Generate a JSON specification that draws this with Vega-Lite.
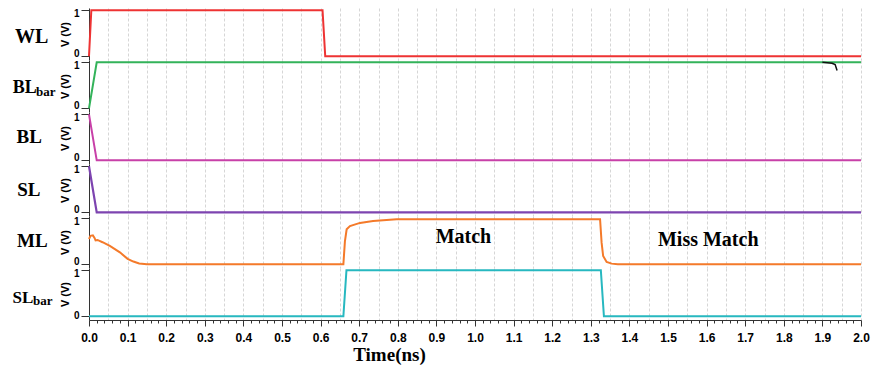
{
  "$schema": "https://vega.github.io/schema/vega-lite/v6.json",
  "padding": {"left": 12, "top": 6, "right": 6, "bottom": 4},
  "background": "white",
  "datasets": {
    "wave": [
      {"sig": "WL", "t": 0, "v": 0}, {"sig": "WL", "t": 0.006, "v": 1}, {"sig": "WL", "t": 0.605, "v": 1}, {"sig": "WL", "t": 0.612, "v": 0}, {"sig": "WL", "t": 2.0, "v": 0},
      {"sig": "BLbar", "t": 0, "v": 0}, {"sig": "BLbar", "t": 0.02, "v": 1}, {"sig": "BLbar", "t": 2.0, "v": 1},
      {"sig": "BL", "t": 0, "v": 1}, {"sig": "BL", "t": 0.02, "v": 0}, {"sig": "BL", "t": 2.0, "v": 0},
      {"sig": "SL", "t": 0, "v": 1}, {"sig": "SL", "t": 0.02, "v": 0}, {"sig": "SL", "t": 2.0, "v": 0},
      {"sig": "ML", "t": 0, "v": 0.55}, {"sig": "ML", "t": 0.004, "v": 0.62}, {"sig": "ML", "t": 0.01, "v": 0.63}, {"sig": "ML", "t": 0.014, "v": 0.58}, {"sig": "ML", "t": 0.017, "v": 0.52}, {"sig": "ML", "t": 0.022, "v": 0.53}, {"sig": "ML", "t": 0.035, "v": 0.48}, {"sig": "ML", "t": 0.054, "v": 0.4}, {"sig": "ML", "t": 0.08, "v": 0.26}, {"sig": "ML", "t": 0.1, "v": 0.12}, {"sig": "ML", "t": 0.115, "v": 0.06}, {"sig": "ML", "t": 0.13, "v": 0.02}, {"sig": "ML", "t": 0.15, "v": 0.0}, {"sig": "ML", "t": 0.659, "v": 0.0}, {"sig": "ML", "t": 0.663, "v": 0.5}, {"sig": "ML", "t": 0.6675, "v": 0.76}, {"sig": "ML", "t": 0.676, "v": 0.83}, {"sig": "ML", "t": 0.702, "v": 0.9}, {"sig": "ML", "t": 0.736, "v": 0.94}, {"sig": "ML", "t": 0.797, "v": 0.98}, {"sig": "ML", "t": 1.324, "v": 0.98}, {"sig": "ML", "t": 1.328, "v": 0.47}, {"sig": "ML", "t": 1.332, "v": 0.18}, {"sig": "ML", "t": 1.341, "v": 0.05}, {"sig": "ML", "t": 1.354, "v": 0.015}, {"sig": "ML", "t": 1.37, "v": 0.0}, {"sig": "ML", "t": 2.0, "v": 0.0},
      {"sig": "SLbar", "t": 0, "v": 0}, {"sig": "SLbar", "t": 0.659, "v": 0}, {"sig": "SLbar", "t": 0.667, "v": 1}, {"sig": "SLbar", "t": 1.326, "v": 1}, {"sig": "SLbar", "t": 1.334, "v": 0}, {"sig": "SLbar", "t": 2.0, "v": 0}
    ],
    "marker": [
      {"t": 1.9, "v": 1.0}, {"t": 1.925, "v": 0.98}, {"t": 1.933, "v": 0.95}, {"t": 1.938, "v": 0.82}
    ]
  },
  "data": {"name": "wave"},
  "vconcat": [
    {
      "width": 772, "height": 52,
      "layer": [
        {"transform": [{"filter": "datum.sig == 'WL'"}],
         "mark": {"type": "line", "color": "#ee3333", "strokeWidth": 2},
         "encoding": {
           "x": {"field": "t", "type": "quantitative", "scale": {"domain": [0, 2], "nice": false, "zero": false},
                 "axis": {"tickCount": 200, "grid": true, "gridColor": "#d6d6d6", "gridDash": [3, 2], "gridOpacity": {"condition": {"test": "round(datum.value*100) % 5 == 0", "value": 1}, "value": 0}, "labels": false, "ticks": false, "domain": false, "title": null}},
           "y": {"field": "v", "type": "quantitative", "scale": {"domain": [-0.08, 1.05], "nice": false, "zero": false},
                 "axis": {"values": [0, 0.25, 0.5, 0.75, 1], "labelExpr": "datum.value == 0 ? '0' : datum.value == 1 ? '1' : ''", "labelOffset": {"condition": {"test": "datum.value == 1", "value": 3}, "value": -3}, "labelFlush": false, "labelOverlap": false, "labelFont": "Liberation Sans", "labelFontWeight": "bold", "labelFontSize": 10, "labelColor": "#000", "labelPadding": 2, "tickSize": {"condition": {"test": "datum.value == 0 || datum.value == 1", "value": 8}, "value": 4}, "tickColor": "#333", "domainColor": "#333", "grid": true, "gridColor": "#d6d6d6", "gridDash": [3, 2], "gridOpacity": {"condition": {"test": "datum.value == 0.5", "value": 1}, "value": 0}, "title": "V (V)", "titleFont": "Liberation Sans", "titleFontWeight": "bold", "titleFontSize": 11, "titleColor": "#000", "titlePadding": 3}}
         }},
        {"data": {"values": [{"label": "WL"}]},
         "mark": {"type": "text", "font": "Liberation Serif", "fontWeight": "bold", "fontSize": 20, "align": "left", "baseline": "alphabetic", "color": "#000"},
         "encoding": {"x": {"datum": -0.1917, "type": "quantitative"}, "y": {"datum": 0.28, "type": "quantitative"}, "text": {"field": "label"}}}
      ]
    },
    {
      "width": 772, "height": 52,
      "layer": [
        {"transform": [{"filter": "datum.sig == 'BLbar'"}],
         "mark": {"type": "line", "color": "#33b35a", "strokeWidth": 2},
         "encoding": {
           "x": {"field": "t", "type": "quantitative", "scale": {"domain": [0, 2], "nice": false, "zero": false},
                 "axis": {"tickCount": 200, "grid": true, "gridColor": "#d6d6d6", "gridDash": [3, 2], "gridOpacity": {"condition": {"test": "round(datum.value*100) % 5 == 0", "value": 1}, "value": 0}, "labels": false, "ticks": false, "domain": false, "title": null}},
           "y": {"field": "v", "type": "quantitative", "scale": {"domain": [-0.08, 1.05], "nice": false, "zero": false},
                 "axis": {"values": [0, 0.25, 0.5, 0.75, 1], "labelExpr": "datum.value == 0 ? '0' : datum.value == 1 ? '1' : ''", "labelOffset": {"condition": {"test": "datum.value == 1", "value": 3}, "value": -3}, "labelFlush": false, "labelOverlap": false, "labelFont": "Liberation Sans", "labelFontWeight": "bold", "labelFontSize": 10, "labelColor": "#000", "labelPadding": 2, "tickSize": {"condition": {"test": "datum.value == 0 || datum.value == 1", "value": 8}, "value": 4}, "tickColor": "#333", "domainColor": "#333", "grid": true, "gridColor": "#d6d6d6", "gridDash": [3, 2], "gridOpacity": {"condition": {"test": "datum.value == 0.5", "value": 1}, "value": 0}, "title": "V (V)", "titleFont": "Liberation Sans", "titleFontWeight": "bold", "titleFontSize": 11, "titleColor": "#000", "titlePadding": 3}}
         }},
        {"data": {"name": "marker"},
         "mark": {"type": "line", "color": "#111111", "strokeWidth": 1.5},
         "encoding": {"x": {"field": "t", "type": "quantitative"}, "y": {"field": "v", "type": "quantitative"}}},
        {"data": {"values": [{"label": "BL"}]},
         "mark": {"type": "text", "font": "Liberation Serif", "fontWeight": "bold", "fontSize": 18, "align": "left", "baseline": "alphabetic", "color": "#000"},
         "encoding": {"x": {"datum": -0.1977, "type": "quantitative"}, "y": {"datum": 0.33, "type": "quantitative"}, "text": {"field": "label"}}},
        {"data": {"values": [{"label": "bar"}]},
         "mark": {"type": "text", "font": "Liberation Serif", "fontWeight": "bold", "fontSize": 13, "align": "left", "baseline": "alphabetic", "color": "#000"},
         "encoding": {"x": {"datum": -0.1373, "type": "quantitative"}, "y": {"datum": 0.27, "type": "quantitative"}, "text": {"field": "label"}}}
      ]
    },
    {
      "width": 772, "height": 52,
      "layer": [
        {"transform": [{"filter": "datum.sig == 'BL'"}],
         "mark": {"type": "line", "color": "#c840a8", "strokeWidth": 2},
         "encoding": {
           "x": {"field": "t", "type": "quantitative", "scale": {"domain": [0, 2], "nice": false, "zero": false},
                 "axis": {"tickCount": 200, "grid": true, "gridColor": "#d6d6d6", "gridDash": [3, 2], "gridOpacity": {"condition": {"test": "round(datum.value*100) % 5 == 0", "value": 1}, "value": 0}, "labels": false, "ticks": false, "domain": false, "title": null}},
           "y": {"field": "v", "type": "quantitative", "scale": {"domain": [-0.08, 1.05], "nice": false, "zero": false},
                 "axis": {"values": [0, 0.25, 0.5, 0.75, 1], "labelExpr": "datum.value == 0 ? '0' : datum.value == 1 ? '1' : ''", "labelOffset": {"condition": {"test": "datum.value == 1", "value": 3}, "value": -3}, "labelFlush": false, "labelOverlap": false, "labelFont": "Liberation Sans", "labelFontWeight": "bold", "labelFontSize": 10, "labelColor": "#000", "labelPadding": 2, "tickSize": {"condition": {"test": "datum.value == 0 || datum.value == 1", "value": 8}, "value": 4}, "tickColor": "#333", "domainColor": "#333", "grid": true, "gridColor": "#d6d6d6", "gridDash": [3, 2], "gridOpacity": {"condition": {"test": "datum.value == 0.5", "value": 1}, "value": 0}, "title": "V (V)", "titleFont": "Liberation Sans", "titleFontWeight": "bold", "titleFontSize": 11, "titleColor": "#000", "titlePadding": 3}}
         }},
        {"data": {"values": [{"label": "BL"}]},
         "mark": {"type": "text", "font": "Liberation Serif", "fontWeight": "bold", "fontSize": 19, "align": "left", "baseline": "alphabetic", "color": "#000"},
         "encoding": {"x": {"datum": -0.1876, "type": "quantitative"}, "y": {"datum": 0.38, "type": "quantitative"}, "text": {"field": "label"}}}
      ]
    },
    {
      "width": 772, "height": 52,
      "layer": [
        {"transform": [{"filter": "datum.sig == 'SL'"}],
         "mark": {"type": "line", "color": "#7d44b0", "strokeWidth": 2.2},
         "encoding": {
           "x": {"field": "t", "type": "quantitative", "scale": {"domain": [0, 2], "nice": false, "zero": false},
                 "axis": {"tickCount": 200, "grid": true, "gridColor": "#d6d6d6", "gridDash": [3, 2], "gridOpacity": {"condition": {"test": "round(datum.value*100) % 5 == 0", "value": 1}, "value": 0}, "labels": false, "ticks": false, "domain": false, "title": null}},
           "y": {"field": "v", "type": "quantitative", "scale": {"domain": [-0.08, 1.05], "nice": false, "zero": false},
                 "axis": {"values": [0, 0.25, 0.5, 0.75, 1], "labelExpr": "datum.value == 0 ? '0' : datum.value == 1 ? '1' : ''", "labelOffset": {"condition": {"test": "datum.value == 1", "value": 3}, "value": -3}, "labelFlush": false, "labelOverlap": false, "labelFont": "Liberation Sans", "labelFontWeight": "bold", "labelFontSize": 10, "labelColor": "#000", "labelPadding": 2, "tickSize": {"condition": {"test": "datum.value == 0 || datum.value == 1", "value": 8}, "value": 4}, "tickColor": "#333", "domainColor": "#333", "grid": true, "gridColor": "#d6d6d6", "gridDash": [3, 2], "gridOpacity": {"condition": {"test": "datum.value == 0.5", "value": 1}, "value": 0}, "title": "V (V)", "titleFont": "Liberation Sans", "titleFontWeight": "bold", "titleFontSize": 11, "titleColor": "#000", "titlePadding": 3}}
         }},
        {"data": {"values": [{"label": "SL"}]},
         "mark": {"type": "text", "font": "Liberation Serif", "fontWeight": "bold", "fontSize": 19, "align": "left", "baseline": "alphabetic", "color": "#000"},
         "encoding": {"x": {"datum": -0.186, "type": "quantitative"}, "y": {"datum": 0.36, "type": "quantitative"}, "text": {"field": "label"}}}
      ]
    },
    {
      "width": 772, "height": 52,
      "layer": [
        {"transform": [{"filter": "datum.sig == 'ML'"}],
         "mark": {"type": "line", "color": "#f47a2a", "strokeWidth": 2},
         "encoding": {
           "x": {"field": "t", "type": "quantitative", "scale": {"domain": [0, 2], "nice": false, "zero": false},
                 "axis": {"tickCount": 200, "grid": true, "gridColor": "#d6d6d6", "gridDash": [3, 2], "gridOpacity": {"condition": {"test": "round(datum.value*100) % 5 == 0", "value": 1}, "value": 0}, "labels": false, "ticks": false, "domain": false, "title": null}},
           "y": {"field": "v", "type": "quantitative", "scale": {"domain": [-0.08, 1.05], "nice": false, "zero": false},
                 "axis": {"values": [0, 0.25, 0.5, 0.75, 1], "labelExpr": "datum.value == 0 ? '0' : datum.value == 1 ? '1' : ''", "labelOffset": {"condition": {"test": "datum.value == 1", "value": 3}, "value": -3}, "labelFlush": false, "labelOverlap": false, "labelFont": "Liberation Sans", "labelFontWeight": "bold", "labelFontSize": 10, "labelColor": "#000", "labelPadding": 2, "tickSize": {"condition": {"test": "datum.value == 0 || datum.value == 1", "value": 8}, "value": 4}, "tickColor": "#333", "domainColor": "#333", "grid": true, "gridColor": "#d6d6d6", "gridDash": [3, 2], "gridOpacity": {"condition": {"test": "datum.value == 0.5", "value": 1}, "value": 0}, "title": "V (V)", "titleFont": "Liberation Sans", "titleFontWeight": "bold", "titleFontSize": 11, "titleColor": "#000", "titlePadding": 3}}
         }},
        {"data": {"values": [{"label": "ML"}]},
         "mark": {"type": "text", "font": "Liberation Serif", "fontWeight": "bold", "fontSize": 19, "align": "left", "baseline": "alphabetic", "color": "#000"},
         "encoding": {"x": {"datum": -0.1865, "type": "quantitative"}, "y": {"datum": 0.37, "type": "quantitative"}, "text": {"field": "label"}}},
        {"data": {"values": [{"label": "Match"}]},
         "mark": {"type": "text", "font": "Liberation Serif", "fontWeight": "bold", "fontSize": 20, "align": "center", "baseline": "alphabetic", "color": "#000"},
         "encoding": {"x": {"datum": 0.97, "type": "quantitative"}, "y": {"datum": 0.47, "type": "quantitative"}, "text": {"field": "label"}}},
        {"data": {"values": [{"label": "Miss Match"}]},
         "mark": {"type": "text", "font": "Liberation Serif", "fontWeight": "bold", "fontSize": 20, "align": "left", "baseline": "alphabetic", "color": "#000"},
         "encoding": {"x": {"datum": 1.474, "type": "quantitative"}, "y": {"datum": 0.4, "type": "quantitative"}, "text": {"field": "label"}}}
      ]
    },
    {
      "width": 772, "height": 52,
      "layer": [
        {"transform": [{"filter": "datum.sig == 'SLbar'"}],
         "mark": {"type": "line", "color": "#27b8c0", "strokeWidth": 2},
         "encoding": {
           "x": {"field": "t", "type": "quantitative", "scale": {"domain": [0, 2], "nice": false, "zero": false},
                 "axis": {"tickCount": 200, "grid": true, "gridColor": "#d6d6d6", "gridDash": [3, 2], "gridOpacity": {"condition": {"test": "round(datum.value*100) % 5 == 0", "value": 1}, "value": 0},
                          "labelExpr": "round(datum.value*100) % 10 == 0 ? format(datum.value, '.1f') : ''", "labelFlush": false, "labelOverlap": false, "labelFont": "Liberation Sans", "labelFontWeight": "bold", "labelFontSize": 12, "labelColor": "#000", "labelPadding": 6,
                          "ticks": true, "tickColor": "#333", "tickSize": {"condition": {"test": "round(datum.value*100) % 10 == 0", "value": 6}, "value": 3}, "tickOpacity": {"condition": {"test": "round(datum.value*100) % 2 == 0", "value": 1}, "value": 0},
                          "domain": true, "domainColor": "#333",
                          "title": "Time(ns)", "titleFont": "Liberation Serif", "titleFontWeight": "bold", "titleFontSize": 19, "titleColor": "#000", "titleX": 300, "titleAlign": "center", "titlePadding": 2}},
           "y": {"field": "v", "type": "quantitative", "scale": {"domain": [-0.08, 1.05], "nice": false, "zero": false},
                 "axis": {"values": [0, 0.25, 0.5, 0.75, 1], "labelExpr": "datum.value == 0 ? '0' : datum.value == 1 ? '1' : ''", "labelOffset": {"condition": {"test": "datum.value == 1", "value": 3}, "value": -1}, "labelFlush": false, "labelOverlap": false, "labelFont": "Liberation Sans", "labelFontWeight": "bold", "labelFontSize": 10, "labelColor": "#000", "labelPadding": 2, "tickSize": {"condition": {"test": "datum.value == 0 || datum.value == 1", "value": 8}, "value": 4}, "tickColor": "#333", "domainColor": "#333", "grid": true, "gridColor": "#d6d6d6", "gridDash": [3, 2], "gridOpacity": {"condition": {"test": "datum.value == 0.5", "value": 1}, "value": 0}, "title": "V (V)", "titleFont": "Liberation Sans", "titleFontWeight": "bold", "titleFontSize": 11, "titleColor": "#000", "titlePadding": 3}}
         }},
        {"data": {"values": [{"label": "SL"}]},
         "mark": {"type": "text", "font": "Liberation Serif", "fontWeight": "bold", "fontSize": 17, "align": "left", "baseline": "alphabetic", "color": "#000"},
         "encoding": {"x": {"datum": -0.198, "type": "quantitative"}, "y": {"datum": 0.29, "type": "quantitative"}, "text": {"field": "label"}}},
        {"data": {"values": [{"label": "bar"}]},
         "mark": {"type": "text", "font": "Liberation Serif", "fontWeight": "bold", "fontSize": 13, "align": "left", "baseline": "alphabetic", "color": "#000"},
         "encoding": {"x": {"datum": -0.145, "type": "quantitative"}, "y": {"datum": 0.24, "type": "quantitative"}, "text": {"field": "label"}}}
      ]
    }
  ],
  "spacing": 0,
  "bounds": "flush",
  "config": {"view": {"stroke": null}}
}
